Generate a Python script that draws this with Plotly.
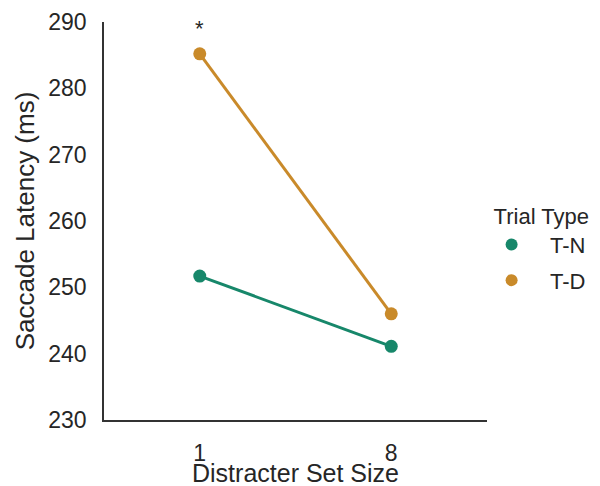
import plotly.graph_objects as go

categories = ["1", "8"]
series_names = ["T-N", "T-D"]
tn_values = [251.7, 241.1]
td_values = [285.2, 246.0]
colors = ["#17876a", "#c98a2a"]
y_ticks = [230, 240, 250, 260, 270, 280, 290]

FONT = "Liberation Sans, Arial, sans-serif"
TXT = "#262626"
PAD = "\u00a0" * 3

fig = go.Figure()
for name, vals, col in zip(series_names, [tn_values, td_values], colors):
    fig.add_trace(go.Scatter(
        x=categories, y=vals, name=name, mode="lines+markers",
        line=dict(color=col, width=3),
        marker=dict(color=col, size=13),
        showlegend=False, legendgroup=name,
    ))
for name, col in zip(series_names, colors):
    fig.add_trace(go.Scatter(
        x=[None], y=[None], name=PAD + name, mode="markers",
        marker=dict(color=col, size=13), legendgroup=name,
    ))

fig.add_annotation(x=0, y=289.0, xref="x", yref="y", text="*", showarrow=False,
                   font=dict(family=FONT, size=22, color=TXT), yanchor="middle")

# x-axis title placed as paper text so it sits clear of the tick labels
fig.add_annotation(x=0.5, y=-0.134, xref="paper", yref="paper",
                   text="Distracter Set Size", showarrow=False,
                   font=dict(family=FONT, size=25, color=TXT),
                   xanchor="center", yanchor="middle")

# page body adds an 8px offset; the figure is sized to fit the 600x486 window
fig.update_layout(
    width=592, height=478,
    margin=dict(l=96, r=113, t=14, b=66, autoexpand=False),
    plot_bgcolor="white", paper_bgcolor="white",
    font=dict(family=FONT, color=TXT),
    showlegend=True,
    legend=dict(
        title=dict(text="Trial Type", font=dict(size=22, color=TXT)),
        font=dict(size=22, color=TXT),
        x=1.012, xanchor="left", y=0.565, yanchor="top",
        itemsizing="constant", tracegroupgap=4,
    ),
    xaxis=dict(
        type="category", range=[-0.5, 1.5], automargin=False,
        showline=True, linecolor="#333333", linewidth=1.5,
        showgrid=False, zeroline=False, ticks="outside", ticklen=12, tickcolor="white",
        tickfont=dict(size=23, color=TXT),
    ),
    yaxis=dict(
        range=[230, 290], tickvals=y_ticks, automargin=False,
        showline=True, linecolor="#333333", linewidth=1.5,
        showgrid=False, zeroline=False, ticks="outside", ticklen=11, tickcolor="white",
        tickfont=dict(size=23, color=TXT),
        title=dict(text="Saccade Latency (ms)", font=dict(size=26, color=TXT), standoff=6),
    ),
)

fig.write_html("out.html")
